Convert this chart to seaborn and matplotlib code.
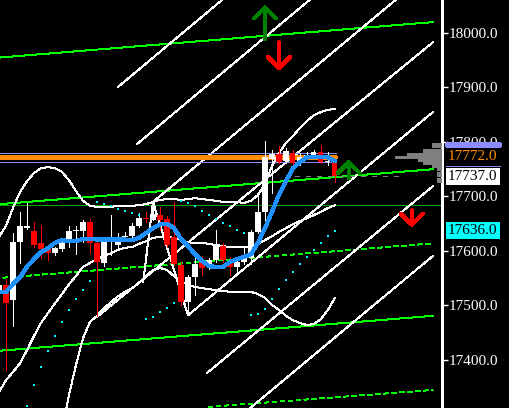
import numpy as np
import pandas as pd
import matplotlib
matplotlib.use('Agg')
import matplotlib.pyplot as plt
import matplotlib.transforms as mtransforms
import seaborn as sns

# Bars (index), candle OHLC
bars = list(range(-1, 48))
opens = [17525, 17538, 17510, 17617, 17642, 17637, 17614, 17605, 17596, 17603,
         17615, 17637, 17637, 17653, 17615, 17578, 17618, 17611, 17626, 17627,
         17645, 17660, 17657, 17666, 17659, 17626, 17574, 17507, 17552, 17582,
         17574, 17584, 17609, 17582, 17571, 17580, 17587, 17634, 17672, 17769,
         17778, 17766, 17779, 17762, 17775, 17774, 17782, 17763, 17766]
highs = [17541, 17549, 17633, 17672, 17688, 17654, 17648, 17608, 17607, 17618,
         17646, 17645, 17657, 17658, 17620, 17624, 17666, 17633, 17635, 17651,
         17670, 17672, 17684, 17681, 17664, 17690, 17580, 17556, 17587, 17591,
         17587, 17639, 17615, 17589, 17583, 17608, 17639, 17703, 17801, 17785,
         17793, 17789, 17785, 17780, 17782, 17785, 17794, 17782, 17767]
lows = [17519, 17382, 17462, 17578, 17641, 17608, 17587, 17583, 17593, 17600,
        17608, 17594, 17617, 17597, 17481, 17572, 17593, 17602, 17620, 17626,
        17644, 17654, 17656, 17638, 17607, 17574, 17501, 17486, 17520, 17556,
        17567, 17580, 17580, 17556, 17562, 17577, 17577, 17633, 17651, 17706,
        17761, 17761, 17758, 17758, 17769, 17772, 17761, 17758, 17727]
closes = [17538, 17505, 17617, 17645, 17646, 17611, 17603, 17596, 17605, 17615,
          17637, 17639, 17653, 17614, 17580, 17620, 17620, 17626, 17628, 17646,
          17661, 17658, 17668, 17657, 17611, 17577, 17507, 17552, 17577, 17569,
          17584, 17611, 17584, 17571, 17580, 17587, 17635, 17672, 17773, 17778,
          17764, 17784, 17761, 17772, 17777, 17782, 17764, 17765, 17737]

# moving average (blue)
ma = [17525, 17525, 17539, 17552, 17571, 17585, 17598, 17605, 17615, 17620,
      17618, 17618, 17622, 17622, 17621, 17621, 17621, 17621, 17621, 17620,
      17624, 17633, 17642, 17649, 17650, 17642, 17622, 17609, 17594, 17582,
      17572, 17571, 17571, 17580, 17585, 17589, 17594, 17615, 17642, 17672,
      17703, 17728, 17752, 17763, 17772, 17773, 17773, 17772, 17765]

# bollinger bands
bb_upper = [17626, 17646, 17679, 17708, 17728, 17743, 17752, 17754, 17752, 17745,
            17730, 17710, 17692, 17683, 17681, 17681, 17681, 17683, 17683, 17683,
            17684, 17686, 17690, 17694, 17695, 17695, 17694, 17695, 17697, 17695,
            17694, 17692, 17690, 17690, 17690, 17688, 17692, 17703, 17723, 17756,
            17780, 17798, 17811, 17826, 17839, 17849, 17855, 17859, 17861]
bb_mid = [17341, 17363, 17378, 17394, 17418, 17444, 17468, 17486, 17504, 17521,
          17539, 17554, 17571, 17578, 17585, 17591, 17596, 17602, 17606, 17607,
          17613, 17618, 17624, 17626, 17626, 17624, 17620, 17616, 17615, 17615,
          17613, 17611, 17609, 17607, 17607, 17607, 17609, 17613, 17620, 17627,
          17635, 17642, 17649, 17655, 17660, 17666, 17672, 17679, 17684]
bb_low_bars = list(range(7, 48))
bb_lower = [17216, 17272, 17336, 17391, 17440, 17470, 17481, 17495, 17506, 17517,
            17525, 17532, 17541, 17554, 17565, 17569, 17565, 17554, 17545, 17538,
            17534, 17532, 17530, 17528, 17527, 17525, 17525, 17525, 17525, 17521,
            17514, 17501, 17492, 17481, 17473, 17468, 17464, 17466, 17475, 17492,
            17514]

# parabolic SAR
sar_bars = list(range(3, 48))
sar = [17316, 17354, 17387, 17416, 17444, 17470, 17492, 17512, 17528, 17545,
       17690, 17686, 17683, 17677, 17673, 17670, 17666, 17475, 17479, 17488,
       17495, 17505, 17692, 17688, 17683, 17673, 17666, 17659, 17651, 17646,
       17639, 17633, 17483, 17484, 17494, 17512, 17530, 17547, 17561, 17576,
       17589, 17602, 17615, 17628, 17637]

# white channel lines: (bar0, price0, bar1, price1)
channel_lines = [(16, 17901, 30.9, 18061), (18.7, 17796, 43.4, 18061),
                 (21, 17690, 55.7, 18061), (13, 17479, 61, 17983),
                 (26, 17482, 61, 17855), (28.7, 17376, 61, 17719),
                 (34.9, 17312, 61, 17591)]
zigzag_bars = [19.6, 21, 26]
zigzag_prices = [17543, 17690, 17482]

# green regression channel
green_solid = [(-0.86, 17955, 61, 18020), (-0.86, 17686, 61, 17750),
               (-0.86, 17417, 61, 17481)]
green_dashed = [(-0.43, 17551, 61, 17614), (28.9, 17314, 61, 17345)]

# horizontal levels
level_dark_green = 17684
level_lav = [17779, 17763]
level_orange = 17773
level_gray = 17737

# arrows: (bar, tail price, tip price)
arrows_up = [(37, 17989, 18051), (49, 17734, 17767)]
arrows_down = [(39, 17983, 17932), (58, 17675, 17644)]

# volume profile
vp_prices = [17796, 17791, 17785, 17780, 17777, 17772, 17766, 17761, 17755,
             17749, 17743, 17738, 17732, 17727]
vp_volume = [10, 10, 19, 19, 35, 47, 24, 19, 10, 5, 5, 5, 5, 5]

yticks = [17400, 17500, 17600, 17700, 17800, 17900, 18000]

sns.set_style('dark', rc={'axes.facecolor': 'black', 'figure.facecolor': 'black'})
plt.rcParams['font.family'] = ['Liberation Serif', 'DejaVu Serif']
plt.rcParams['lines.antialiased'] = False
plt.rcParams['patch.antialiased'] = False

fig = plt.figure(figsize=(5.1, 4.08), dpi=100)
ax = fig.add_axes([0, 0, 442 / 510, 1])
ax.set_facecolor('black')
ax.set_xlim(-0.857, 62.29)
ax.set_ylim(17311.9, 18060.55)

lav = '#8c8cff'
orange = '#ff8c00'
thin = 0.72

# green channel
for x0, y0, x1, y1 in green_solid:
    ax.plot([x0, x1], [y0, y1], color='#00ff00', lw=thin, zorder=1)
for x0, y0, x1, y1 in green_dashed:
    ax.plot([x0, x1], [y0, y1], color='#00ff00', lw=thin, ls=(0, (5, 3)), zorder=1)
ax.axhline(level_dark_green, color='#00a800', lw=thin, zorder=1)

# white diagonal lines
for x0, y0, x1, y1 in channel_lines:
    ax.plot([x0, x1], [y0, y1], color='white', lw=thin, zorder=2)
ax.plot(zigzag_bars, zigzag_prices, color='white', lw=thin, zorder=2)

# horizontal levels
for lv in level_lav:
    ax.plot([-0.86, 47.1], [lv, lv], color=lav, lw=thin, zorder=2)
ax.plot([-0.86, 47.1], [level_orange, level_orange], color=orange, lw=2.2, zorder=2)
ax.plot([41.3, 57], [level_gray, level_gray], color='#808080', lw=thin,
        ls=(0, (5, 6)), zorder=2)
ax.plot([55.6, 62.0], [level_orange, level_orange], color=orange, lw=thin, zorder=4)

# bands
band_df = pd.DataFrame({'bar': bars, 'upper': bb_upper, 'mid': bb_mid})
sns.lineplot(data=band_df, x='bar', y='upper', color='white', lw=thin,
             estimator=None, ax=ax, zorder=3)
sns.lineplot(data=band_df, x='bar', y='mid', color='white', lw=thin,
             estimator=None, ax=ax, zorder=3)
low_df = pd.DataFrame({'bar': bb_low_bars, 'lower': bb_lower})
sns.lineplot(data=low_df, x='bar', y='lower', color='white', lw=thin,
             estimator=None, ax=ax, zorder=3)

# candles
o = np.array(opens)
c = np.array(closes)
cols = ['white' if cc >= oo else '#ff0000' for oo, cc in zip(o, c)]
bottom = np.minimum(o, c)
height = np.maximum(np.abs(c - o), 1.8)
ax.vlines(bars, lows, highs, colors=cols, lw=thin, zorder=4)
ax.bar(bars, height, bottom=bottom, width=0.72, color=cols, lw=0, zorder=5)

# MA
ma_df = pd.DataFrame({'bar': bars, 'ma': ma})
sns.lineplot(data=ma_df, x='bar', y='ma', color='#1e90ff', lw=2.3,
             estimator=None, ax=ax, zorder=6)

# SAR
sar_df = pd.DataFrame({'bar': sar_bars, 'sar': sar})
sns.scatterplot(data=sar_df, x='bar', y='sar', color='#00ffff', marker='s',
                s=2.5, linewidth=0, ax=ax, zorder=6)

# arrows
for b, tail, tip in arrows_up:
    ax.annotate('', xy=(b, tip), xytext=(b, tail),
                arrowprops=dict(arrowstyle='->,head_length=0.8,head_width=0.8',
                                color='#008000', lw=2.2, shrinkA=0, shrinkB=0,
                                mutation_scale=10), zorder=7)
for b, tail, tip in arrows_down:
    ax.annotate('', xy=(b, tip), xytext=(b, tail),
                arrowprops=dict(arrowstyle='->,head_length=0.8,head_width=0.8',
                                color='#ff0000', lw=2.2, shrinkA=0, shrinkB=0,
                                mutation_scale=10), zorder=7)

# volume profile
vp = ax.inset_axes([395 / 442, 0, 47 / 442, 1])
vp.barh(vp_prices, vp_volume, height=5.5, color='#808080', lw=0)
vp.set_xlim(47, 0)
vp.set_ylim(ax.get_ylim())
vp.axis('off')
vp.patch.set_alpha(0)

# axis
ax.set_xlabel('')
ax.set_ylabel('')
ax.grid(False)
ax.yaxis.tick_right()
ax.set_yticks(yticks)
ax.set_yticklabels([f'{t:.1f}' for t in yticks])
ax.tick_params(axis='y', colors='white', length=4, width=1, pad=1,
               labelsize=11, direction='out')
ax.tick_params(axis='x', bottom=False, labelbottom=False)
for s in ['top', 'bottom', 'left']:
    ax.spines[s].set_visible(False)
ax.spines['right'].set_color('white')
ax.spines['right'].set_linewidth(1)

blend = mtransforms.blended_transform_factory(ax.transAxes, ax.transData)
ax.plot([447 / 442, 500 / 442], [17794, 17794], transform=blend, color=lav,
        lw=3, clip_on=False, zorder=8)
ax.plot([446 / 442, 500 / 442], [17756, 17756], transform=blend, color=lav,
        lw=thin, clip_on=False, zorder=8)
ax.text(448 / 442, 17773, '17772.0', transform=blend, color=orange, fontsize=11,
        va='center', ha='left', clip_on=False, zorder=9)
ax.text(448 / 442, 17737, '17737.0', transform=blend, color='black', fontsize=11,
        va='center', ha='left', clip_on=False, zorder=9,
        bbox=dict(facecolor='white', edgecolor='none', pad=1.5))
ax.text(448 / 442, 17638, '17636.0', transform=blend, color='black', fontsize=11,
        va='center', ha='left', clip_on=False, zorder=9,
        bbox=dict(facecolor='#00ffff', edgecolor='none', pad=1.5))

fig.savefig('out.png', dpi=100, facecolor='black')
